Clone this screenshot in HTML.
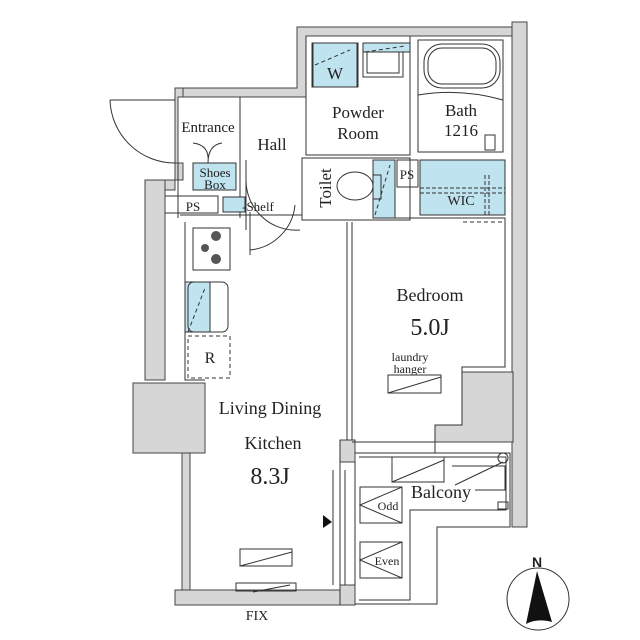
<!DOCTYPE html>
<html><head><meta charset="utf-8"><style>
html,body{margin:0;padding:0;background:#fff;}
svg{display:block;font-family:"Liberation Serif",serif;}
</style></head><body>
<svg width="640" height="640" viewBox="0 0 640 640" xmlns="http://www.w3.org/2000/svg">
<g stroke="#444" stroke-width="1" fill="#d6d6d6">
<path d="M297 27 H512 V36 H306 V97 H178 V88 H297 Z"/>
<path d="M512 22 H527 V527 H512 Z"/>
<path d="M462 372 H513 V442 H435 V425 H462 Z"/>
<path d="M175 88 H183 V97 H178 V163 H175 Z"/>
<path d="M175 163 H183 V180 H145 V190 H175 Z"/>
<path d="M145 180 H165 V380 H145 Z"/>
<path d="M133 383 H205 V453 H133 Z"/>
<path d="M182 453 H190 V590 H182 Z"/>
<path d="M175 590 H340 V605 H175 Z"/>
<path d="M340 440 H355 V462 H340 Z"/>
<path d="M340 585 H355 V605 H340 Z"/>
</g>
<g fill="none" stroke="#333" stroke-width="1">
<path d="M355 453 H510 V527 H437 V604 H355"/>
<path d="M359 457 H506 V510 H410 V600 H359"/>
<path d="M352 442 H435 V453"/>
<path d="M340 440 V605 M355 462 V585 M333 470 V585 M345 470 V585"/>
<path d="M306 36 V155 H410 V36"/>
<path d="M418 40 H503 V152 H418 Z"/>
<rect x="424" y="44" width="76" height="44" rx="18"/>
<rect x="428" y="48" width="68" height="36" rx="14"/>
<path d="M418 95 Q460 88 503 100"/>
<rect x="485" y="135" width="10" height="15"/>
<rect x="363" y="43" width="40" height="34"/>
<rect x="367" y="47" width="32" height="26"/>
<path d="M302 158 H410 V220 H302 Z"/>
<path d="M240 97 V218"/>
<path d="M178 163 V218"/>
<path d="M180 215 H302"/>
<path d="M185 222 V380 H205"/>
<path d="M193 228 H230 V270 H193 Z"/>
<path d="M347 222 V440"/>
<path d="M352 222 V440"/>
<path d="M395 218 H505 V367 H462 V425 H435 V441"/>
<path d="M110 100 A65 65 0 0 0 175 163"/>
<path d="M110 100 H175"/>
<path d="M246 180 A50 50 0 0 0 300 230"/>
<path d="M246 160 V230"/>
<path d="M295 205 A50 50 0 0 1 250 250"/>
<path d="M250 212 V255"/>
<path d="M193 143 Q210 145 208 163 M222 143 Q208 145 208 163"/>
<path d="M165 196 H218 V213 H165"/>
<rect x="388" y="375" width="53" height="18"/><path d="M388 393 L441 377"/>
<rect x="240" y="549" width="52" height="17"/><path d="M240 566 L292 552"/>
<rect x="392" y="457" width="52" height="25"/><path d="M392 482 L444 460"/>
<rect x="360" y="487" width="42" height="36"/><path d="M402 487 L360 505 L402 523"/>
<rect x="360" y="542" width="42" height="36"/><path d="M402 542 L360 560 L402 578"/>
<path d="M452 466 H505 V490 H475"/><path d="M455 485 L503 462"/>
<circle cx="503" cy="458" r="5"/>
<rect x="498" y="502" width="10" height="7"/>
<rect x="236" y="583" width="60" height="8"/>
<path d="M253 592 L290 585"/>
</g>
<g fill="#555">
<circle cx="216" cy="236" r="5"/><circle cx="205" cy="248" r="4"/><circle cx="216" cy="259" r="5"/>
</g>
<g fill="#bfe3ef" stroke="#333" stroke-width="1">
<rect x="313" y="43" width="44" height="44"/>
<rect x="363" y="43" width="47" height="9"/>
<rect x="193" y="163" width="43" height="27"/>
<rect x="223" y="197" width="22" height="15"/>
<rect x="373" y="160" width="22" height="58"/>
<rect x="420" y="160" width="85" height="55"/>
<rect x="185" y="282" width="25" height="50"/>
</g>
<g fill="none" stroke="#333" stroke-width="1">
<rect x="312" y="43" width="46" height="44"/>
<rect x="397" y="160" width="21" height="27"/>
<ellipse cx="355" cy="186" rx="18" ry="14"/>
<rect x="373" y="175" width="8" height="24"/>
<rect x="188" y="282" width="40" height="50" rx="6"/>
<path d="M420 188 H505 M420 193 H505 M485 175 V215 M489 175 V215" stroke-dasharray="4 2"/>
<path d="M315 65 L350 50 M365 52 L405 46 M188 332 L205 288 M375 215 L390 165" stroke-dasharray="4 3"/>
<rect x="188" y="336" width="42" height="42" stroke-dasharray="4 3"/>
<path d="M463 222 H505" stroke-dasharray="4 3"/>
</g>
<polygon points="323,515 332,522 323,528" fill="#111"/>
<g fill="#222" font-size="16" text-anchor="middle">
<text x="335" y="79" font-size="17">W</text>
<text x="358" y="118" font-size="17">Powder</text>
<text x="358" y="139" font-size="17">Room</text>
<text x="461" y="116" font-size="17">Bath</text>
<text x="461" y="136" font-size="17">1216</text>
<text x="208" y="132" font-size="15">Entrance</text>
<text x="272" y="150" font-size="17">Hall</text>
<text x="215" y="177" font-size="13">Shoes</text>
<text x="215" y="189" font-size="13">Box</text>
<text x="193" y="211" font-size="13">PS</text>
<text x="258" y="211" font-size="13">-Shelf</text>
<text x="407" y="179" font-size="13">PS</text>
<text x="461" y="205" font-size="14">WIC</text>
<text transform="translate(331,188) rotate(-90)" font-size="17">Toilet</text>
<text x="210" y="363" font-size="16">R</text>
<text x="430" y="301" font-size="18">Bedroom</text>
<text x="430" y="335" font-size="24">5.0J</text>
<text x="410" y="361" font-size="12">laundry</text>
<text x="410" y="373" font-size="12">hanger</text>
<text x="270" y="414" font-size="18">Living Dining</text>
<text x="273" y="449" font-size="18">Kitchen</text>
<text x="270" y="484" font-size="24">8.3J</text>
<text x="441" y="498" font-size="18">Balcony</text>
<text x="388" y="510" font-size="12">Odd</text>
<text x="387" y="565" font-size="12">Even</text>
<text x="257" y="620" font-size="14">FIX</text>
<text x="537" y="567" font-size="14" font-family="Liberation Sans,sans-serif" font-weight="bold">N</text>
</g>
<circle cx="538" cy="599" r="31" fill="none" stroke="#333"/>
<path d="M537 571 L526 624 Q537 618 552 622 Z" fill="#111"/>
</svg>
</body></html>
